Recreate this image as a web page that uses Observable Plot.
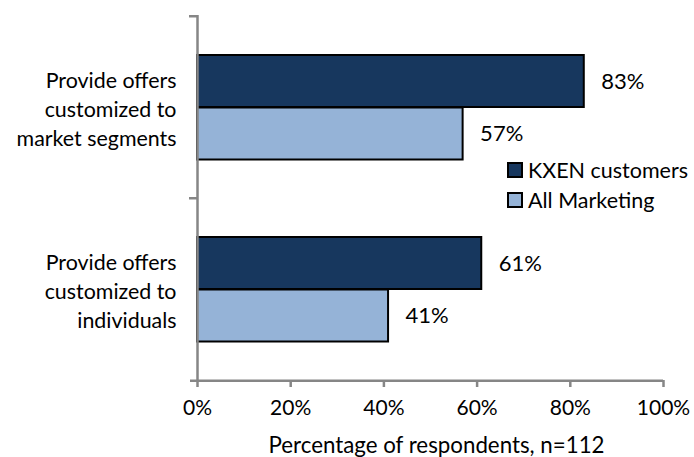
<!DOCTYPE html>
<html><head><meta charset="utf-8">
<script src="https://cdn.jsdelivr.net/npm/d3@7"></script>
<script src="https://cdn.jsdelivr.net/npm/@observablehq/plot@0.6"></script>
<style>
body{margin:0;background:#fff;}
#wrap{position:relative;width:694px;height:457px;font-family:Lato,sans-serif;color:#000;}
#wrap svg{display:block;}
.legend{position:absolute;left:507px;top:155px;font-size:21.5px;line-height:30px;}
.legend div{display:flex;align-items:center;white-space:nowrap;}
.legend .sw{display:inline-block;width:12px;height:12px;border:2px solid #000;margin-right:5px;}
</style></head><body><div id="wrap"></div>
<script>
const categories = ["market segments", "individuals"];
const categoryLabels = ["Provide offers\ncustomized to\nmarket segments", "Provide offers\ncustomized to\nindividuals"];
const series = ["KXEN customers", "All Marketing"];
const kxen = [83, 61];
const allMarketing = [57, 41];
const xTicks = [0, 20, 40, 60, 80, 100];
const axisTitle = "Percentage of respondents, n=112";
const colors = ["#17375E", "#95B3D7"];

const W = 694, H = 457;
const mT = 15, mB = 77, mL = 197, mR = 31;
const band = (H - mT - mB) / categories.length;
const half = band / 2;

const kx = categories.map((c, i) => ({cat: c, v: kxen[i]}));
const am = categories.map((c, i) => ({cat: c, v: allMarketing[i]}));
const labels = categories.map((c, i) => ({cat: c, t: categoryLabels[i]}));
const axisColor = "#868686";

const chart = Plot.plot({
  width: W, height: H,
  marginTop: mT, marginBottom: mB, marginLeft: mL, marginRight: mR,
  style: {fontFamily: "Lato, sans-serif", fontSize: "21px", color: "#000", background: "#fff"},
  x: {domain: [0, 100], axis: null},
  y: {domain: categories, padding: 0, axis: null},
  marks: [
    Plot.barX(kx, {y: "cat", x: "v", fill: colors[0], stroke: "#000", strokeWidth: 2, insetTop: 39, insetBottom: 91}),
    Plot.barX(am, {y: "cat", x: "v", fill: colors[1], stroke: "#000", strokeWidth: 2, insetTop: 91.5, insetBottom: 38.5}),
    Plot.text(kx, {y: "cat", x: "v", text: d => d.v + "%", textAnchor: "start", dx: 17, dy: -26, fontSize: 22}),
    Plot.text(am, {y: "cat", x: "v", text: d => d.v + "%", textAnchor: "start", dx: 17, dy: 26.5, fontSize: 22}),
    Plot.text(labels, {y: "cat", text: "t", frameAnchor: "left", textAnchor: "end", dx: -21, lineHeight: 1.37, fontSize: 21.4}),
    Plot.ruleX([0], {stroke: axisColor, strokeWidth: 2.5}),
    Plot.ruleY(categories, {y: d => d, x1: 0, x2: 0, insetLeft: -8, dy: -half, stroke: axisColor, strokeWidth: 2.5}),
    Plot.ruleY([categories[categories.length - 1]], {y: d => d, dy: half, insetLeft: -7, stroke: axisColor, strokeWidth: 2.5}),
    Plot.axisX(xTicks, {tickSize: 7, stroke: axisColor, strokeWidth: 2.5, tickPadding: 13, tickFormat: d => d + "%", fontSize: 21, label: null}),
    Plot.text([axisTitle], {text: d => d, frameAnchor: "bottom", dy: 72, dx: 6, fontSize: 22.3})
  ]
});

const wrap = document.getElementById("wrap");
wrap.appendChild(chart);
const legend = document.createElement("div");
legend.className = "legend";
series.forEach((s, i) => {
  const row = document.createElement("div");
  const sw = document.createElement("span");
  sw.className = "sw";
  sw.style.background = colors[i];
  row.appendChild(sw);
  row.appendChild(document.createTextNode(s));
  legend.appendChild(row);
});
wrap.appendChild(legend);
</script></body></html>
